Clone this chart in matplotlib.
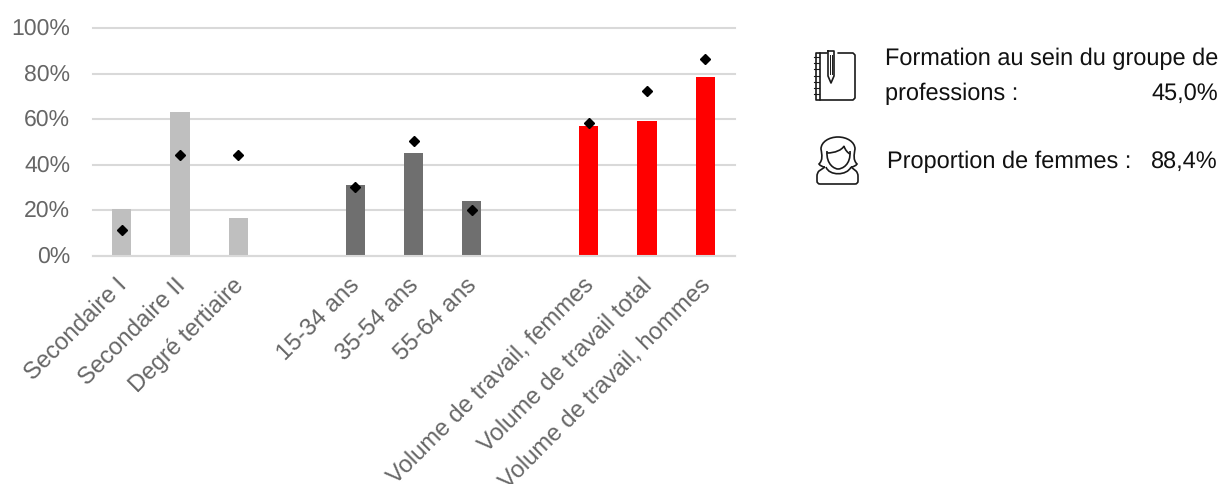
import matplotlib.pyplot as plt
import numpy as np
from matplotlib.path import Path
from matplotlib.patches import PathPatch
from matplotlib.transforms import ScaledTranslation

plt.rcParams['font.family'] = ['Liberation Sans', 'DejaVu Sans']
plt.rcParams['text.hinting'] = 'no_hinting'

W, H = 1220, 484

categories = ['Secondaire I', 'Secondaire II', 'Degré tertiaire', '',
              '15-34 ans', '35-54 ans', '55-64 ans', '',
              'Volume de travail, femmes', 'Volume de travail total',
              'Volume de travail, hommes']
bar_values = [20.5, 63, 16.5, np.nan, 31, 45, 24, np.nan, 57, 59, 78.5]
marker_values = [11.5, 44.5, 44.3, np.nan, 30.3, 50.3, 20, np.nan, 58.2, 72.3, 86.2]
bar_colors = ['#bfbfbf'] * 4 + ['#6f6f6f'] * 4 + ['#ff0000'] * 3
y_ticks = [0, 20, 40, 60, 80, 100]
y_tick_labels = ['0%', '20%', '40%', '60%', '80%', '100%']

fig = plt.figure(figsize=(W / 100, H / 100), dpi=100)
ax = fig.add_axes([92.5 / W, 1 - 256 / H, 642 / W, 228 / H])

x = np.arange(len(categories))
ax.bar(x, bar_values, width=0.33, color=bar_colors, zorder=2)
ax.plot(x, marker_values, linestyle='none', marker='D', markersize=5.2,
        color='black', zorder=3)

ax.set_xlim(-0.5, len(categories) - 0.5)
ax.set_ylim(0, 100)
ax.set_yticks(y_ticks)
ax.set_yticklabels(y_tick_labels, fontsize=16.6, color='#666666')
ax.set_xticks(x)
ax.set_xticklabels(categories, rotation=45, ha='right', va='top',
                   rotation_mode='anchor', fontsize=17.2, color='#666666')
ax.tick_params(length=0)
ax.tick_params(axis='y', pad=16)
ax.tick_params(axis='x', pad=13)
ax.grid(axis='y', color='#d9d9d9', linewidth=1.5, zorder=1, clip_on=False)
ax.axhline(0, color='#d9d9d9', linewidth=1.5, zorder=4, clip_on=False)
ax.set_axisbelow(True)
for side in ax.spines.values():
    side.set_visible(False)

# nudge the rotated labels left, and the y labels up a little
shift = ScaledTranslation(-6 / 100, 0, fig.dpi_scale_trans)
for lab in ax.get_xticklabels():
    lab.set_transform(lab.get_transform() + shift)
shift_y = ScaledTranslation(0, 1.5 / 100, fig.dpi_scale_trans)
for lab in ax.get_yticklabels():
    lab.set_transform(lab.get_transform() + shift_y)

# overlay in pixel coords for the side panel
ov = fig.add_axes([0, 0, 1, 1])
ov.set_xlim(0, W)
ov.set_ylim(H, 0)
ov.axis('off')
ov.patch.set_alpha(0)

txt = dict(fontsize=16.95, color='#111111', va='center')
ov.text(885, 58.5, 'Formation au sein du groupe de', ha='left', **txt)
ov.text(885, 93.5, 'professions :', ha='left', **txt)
ov.text(1218, 93.5, '45,0%', ha='right', **txt)
ov.text(887, 161.5, 'Proportion de femmes :', ha='left', **txt)
ov.text(1218, 161.5, '88,4%', ha='right', **txt)

# notebook icon
ic = dict(color='#1a1a1a', lw=1.2, solid_capstyle='round')
ov.plot([838, 853, 855, 855, 853, 816, 816, 827], [53, 53, 55, 98, 100, 100, 53, 53], **ic)
ov.plot([820, 820], [53, 100], **ic)
for yy in np.arange(57, 100, 6.2):
    ov.plot([814, 819], [yy, yy], color='#1a1a1a', lw=0.8)
ov.plot([828, 828, 831, 834, 834, 828], [51, 76, 83, 76, 51, 51], **ic)
ov.plot([830, 830], [55, 74], color='#1a1a1a', lw=0.7)
ov.plot([832, 832], [55, 74], color='#1a1a1a', lw=0.7)


def curve(points):
    # first point is a move, 3 points after it = cubic, 2 = quad, 1 = line
    verts, codes = [points[0]], [Path.MOVETO]
    for seg in points[1:]:
        if isinstance(seg, list):
            verts += seg
            codes += [Path.CURVE4] * 3 if len(seg) == 3 else [Path.CURVE3] * 2
        else:
            verts.append(seg)
            codes.append(Path.LINETO)
    ov.add_patch(PathPatch(Path(verts, codes), fill=False, ec='#1a1a1a', lw=1.2))


# woman icon
curve([(825, 167), [(821, 167), (819, 164)], [(823, 160), (822, 155), (821, 149)],
       [(821, 142), (829, 137), (838, 137)], [(847, 137), (855, 142), (855, 149)],
       [(854, 155), (853, 160), (857, 164)], [(855, 167), (851, 167)]])
curve([(827, 151), [(826, 165), (835, 169), (838, 169)], [(842, 169), (851, 165), (850, 151)]])
curve([(827, 153), [(835, 153), (842, 150), (844, 146)], [(845, 150), (848, 153), (850, 154)]])
curve([(826, 167), [(829, 176), (847, 176), (851, 167)]])
curve([(825, 167), (819, 171), [(817, 173), (817, 176)], (817, 181), [(817, 184), (820, 184)],
       (855, 184), [(858, 184), (858, 181)], (858, 176), [(858, 173), (856, 171)], (851, 167)])

plt.savefig('out.png', dpi=100)
plt.close()
